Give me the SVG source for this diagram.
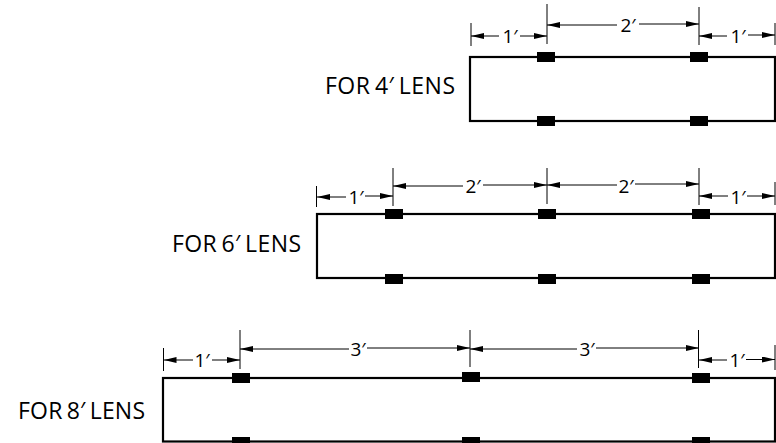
<svg xmlns="http://www.w3.org/2000/svg" width="776" height="443" viewBox="0 0 776 443">
<style>
.r{fill:none;stroke:#000;stroke-width:2.2}
.t{stroke:#000;stroke-width:1;fill:none}
.d{stroke:#000;stroke-width:1;fill:none;marker-end:url(#a)}
.c{fill:#000}
text{font-family:"Open Sans","Noto Sans",sans-serif;fill:#000}
.l{font-size:23px;word-spacing:-2px}
.m{font-size:19px;text-anchor:middle}
</style>
<defs><marker id="a" viewBox="0 0 13 6" refX="13" refY="3" markerWidth="13" markerHeight="6" orient="auto" markerUnits="userSpaceOnUse"><path d="M0 0L13 3L0 6Z" fill="#000"/></marker></defs>
<rect width="776" height="443" fill="#fff"/>
<g id="connectors">
<path class="t" d="M471 23V46M547 4V44M699 7V45M775 23V45"/>
<path class="d" d="M499 36H471"/><path class="d" d="M520 36H547"/><path class="d" d="M617 25H547"/><path class="d" d="M639 24H699"/><path class="d" d="M727 36H699"/><path class="d" d="M748 35H775"/>
<path class="t" d="M316.500 186V207M393 168V206M547 168V204M699 168V205M775 182V205"/>
<path class="d" d="M346 197H317"/><path class="d" d="M365 196H393"/><path class="d" d="M463 186H393"/><path class="d" d="M483 185H547"/><path class="d" d="M617 185H547"/><path class="d" d="M635 184H699"/><path class="d" d="M728 196H699"/><path class="d" d="M747 196H775"/>
<path class="t" d="M163.500 348V371M240 330V369M470 330V367M698.500 330V368M775 345V370"/>
<path class="d" d="M193 360H163.500"/><path class="d" d="M212 360H240"/><path class="d" d="M349 349H240"/><path class="d" d="M367 348H470"/><path class="d" d="M577 349H470"/><path class="d" d="M596 348H699"/><path class="d" d="M727 360H699"/><path class="d" d="M746 359.500H775"/>
</g>
<g id="lens4"><rect class="r" x="470" y="57" width="305" height="64"/>
<rect class="c" x="537" y="52" width="18" height="10"/><rect class="c" x="690" y="52" width="18" height="10"/><rect class="c" x="537" y="116" width="18" height="10"/><rect class="c" x="690" y="116" width="18" height="10"/>
<text class="l" x="325" y="94" textLength="130">FOR 4′ LENS</text>
<text class="m" x="510" y="42.500">1′</text><text class="m" x="628" y="32">2′</text><text class="m" x="738" y="42.500">1′</text></g>
<g id="lens6"><rect class="r" x="317" y="214" width="458" height="64"/>
<rect class="c" x="385" y="209" width="18" height="10"/><rect class="c" x="538" y="209" width="18" height="10"/><rect class="c" x="692" y="209" width="18" height="10"/><rect class="c" x="385" y="274" width="18" height="10"/><rect class="c" x="538" y="274" width="18" height="10"/><rect class="c" x="692" y="274" width="18" height="10"/>
<text class="l" x="172" y="252" textLength="129">FOR 6′ LENS</text>
<text class="m" x="356" y="203.500">1′</text><text class="m" x="473" y="192.500">2′</text><text class="m" x="626" y="192.500">2′</text><text class="m" x="738" y="203.500">1′</text></g>
<g id="lens8"><rect class="r" x="163" y="378" width="612" height="63.500"/>
<rect class="c" x="232" y="373" width="18" height="10"/><rect class="c" x="462" y="372" width="18" height="10"/><rect class="c" x="692" y="373" width="18" height="10"/><rect class="c" x="232" y="437" width="18" height="6"/><rect class="c" x="462" y="437" width="18" height="6"/><rect class="c" x="692" y="437" width="18" height="6"/>
<text class="l" x="18" y="419" textLength="127">FOR 8′ LENS</text>
<text class="m" x="202" y="366.500">1′</text><text class="m" x="358" y="356">3′</text><text class="m" x="587" y="356">3′</text><text class="m" x="737" y="366.500">1′</text></g>
</svg>
